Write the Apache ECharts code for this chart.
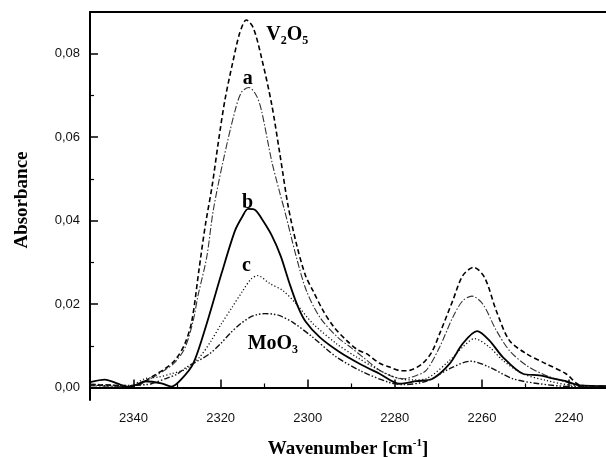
<!DOCTYPE html>
<html>
<head>
<meta charset="utf-8">
<script src="https://cdn.jsdelivr.net/npm/echarts@6/dist/echarts.min.js"></script>
<style>
  html, body { margin: 0; padding: 0; background: #fff; }
  #chart { width: 606px; height: 457px; }
</style>
</head>
<body>
<div id="chart"></div>
<script>
// wavenumber (cm-1) / absorbance
var v2o5X = [2350, 2346, 2342, 2338.5, 2335.9, 2332.8, 2330.5, 2328.2, 2326.6, 2325, 2323.5, 2322, 2320.5, 2319, 2317.2, 2315.6, 2314.1, 2312.5, 2310.6, 2308.3, 2306.4, 2304.5, 2302.5, 2300.5, 2298.8, 2296.5, 2294, 2291.1, 2288.5, 2286.5, 2283.5, 2281.2, 2278.5, 2276.6, 2273.6, 2271.5, 2269.7, 2266.7, 2264.4, 2261.9, 2259.4, 2256.7, 2253.7, 2249.8, 2245.3, 2240.7, 2237.6, 2234, 2230];
var v2o5Y = [0.0005, 0.0006, 0.0003, 0.0008, 0.0025, 0.0045, 0.0065, 0.0105, 0.016, 0.028, 0.039, 0.048, 0.059, 0.069, 0.078, 0.085, 0.0881, 0.0862, 0.079, 0.068, 0.056, 0.0435, 0.034, 0.0268, 0.0232, 0.0185, 0.0145, 0.0113, 0.009, 0.0081, 0.0058, 0.0049, 0.004, 0.0041, 0.0058, 0.0085, 0.0129, 0.0208, 0.0268, 0.0288, 0.0264, 0.0184, 0.0113, 0.0081, 0.0057, 0.0033, 0.0006, 0.0003, 0.0004];

var aX = [2350, 2346, 2342, 2338.5, 2335.9, 2332.8, 2330.5, 2328.2, 2326.3, 2325.2, 2323.2, 2321.7, 2319.4, 2316.7, 2315.2, 2313.5, 2311.8, 2310.6, 2308.3, 2306.5, 2305.3, 2302.6, 2300.3, 2297.2, 2293.1, 2290, 2287, 2284, 2281, 2278.1, 2275.5, 2272.8, 2269.7, 2266.7, 2264.4, 2262.3, 2259.8, 2256.7, 2253.7, 2249.8, 2245.3, 2240.7, 2236.9, 2230];
var aY = [0.0004, 0.0003, 0.0002, 0.0008, 0.0022, 0.0042, 0.006, 0.0095, 0.016, 0.022, 0.0312, 0.0424, 0.0544, 0.0663, 0.0708, 0.0719, 0.07, 0.0663, 0.0544, 0.047, 0.0424, 0.0312, 0.0232, 0.0168, 0.012, 0.0095, 0.007, 0.0045, 0.0028, 0.0021, 0.0027, 0.0041, 0.0097, 0.0168, 0.0208, 0.0219, 0.02, 0.0137, 0.0089, 0.0053, 0.0029, 0.0013, 0.0003, 0.0003];

var bX = [2350, 2346.6, 2343.6, 2341.3, 2339, 2337.4, 2333.6, 2331.3, 2329, 2326.3, 2323.2, 2319.8, 2316.7, 2315, 2313.7, 2312, 2310.3, 2308.3, 2306.2, 2304.2, 2302.3, 2300.5, 2297.2, 2292.7, 2288.1, 2283.5, 2278.9, 2275.1, 2271.3, 2267.4, 2264.4, 2261.1, 2258.3, 2255.2, 2250.6, 2246.8, 2243, 2240.7, 2237.6, 2230];
var bY = [0.0013, 0.0019, 0.0009, 0.0001, 0.0008, 0.0015, 0.001, 0.0002, 0.002, 0.0057, 0.0153, 0.0273, 0.0376, 0.041, 0.0428, 0.0425, 0.04, 0.0365, 0.0315, 0.025, 0.0195, 0.0158, 0.012, 0.0085, 0.0057, 0.0033, 0.0009, 0.0015, 0.0021, 0.0057, 0.0105, 0.0135, 0.0113, 0.0073, 0.0033, 0.0029, 0.002, 0.0015, 0.0005, 0.0003];

var cX = [2350, 2346, 2341, 2337.4, 2334.3, 2331.3, 2327.8, 2324.8, 2322.3, 2319.8, 2317.5, 2314.9, 2313, 2311.5, 2308.7, 2305.7, 2302.6, 2298.8, 2293.4, 2288.8, 2283.5, 2278.9, 2275.5, 2272.8, 2267.4, 2264.4, 2261.7, 2258.3, 2255.2, 2250.6, 2245.3, 2239.1, 2230];
var cY = [0.0006, 0.0004, 0.0004, 0.0021, 0.0025, 0.0033, 0.0045, 0.0073, 0.011, 0.0153, 0.019, 0.0232, 0.026, 0.0268, 0.0249, 0.0232, 0.02, 0.0153, 0.0105, 0.0073, 0.0041, 0.0021, 0.0018, 0.0021, 0.0065, 0.0097, 0.0117, 0.0097, 0.0065, 0.0033, 0.0017, 0.0005, 0.0003];

var moo3X = [2350, 2346, 2341, 2337, 2335.9, 2332.4, 2330, 2327.8, 2325, 2322.5, 2320, 2317.9, 2315.5, 2313.3, 2311.5, 2309.9, 2308, 2306.4, 2303.4, 2298.8, 2293.4, 2287.3, 2281.2, 2278, 2272.8, 2267.4, 2262.6, 2258.3, 2252.9, 2246.8, 2239.1, 2230];
var moo3Y = [0.0008, 0.0006, 0.0005, 0.0007, 0.0009, 0.0022, 0.0032, 0.0049, 0.0065, 0.0081, 0.0105, 0.0129, 0.0152, 0.0168, 0.0175, 0.0177, 0.0176, 0.0172, 0.0156, 0.012, 0.0073, 0.0037, 0.0012, 0.0007, 0.0015, 0.0045, 0.0063, 0.0049, 0.0021, 0.0009, 0.0002, 0.0002];

// axes
var xMajorTicks = [2340, 2320, 2300, 2280, 2260, 2240];
var xMinorTicks = [2330, 2310, 2290, 2270, 2250];
var yTickValues = [0, 0.02, 0.04, 0.06, 0.08];
var yTickLabels = ['0,00', '0,02', '0,04', '0,06', '0,08'];
var yMinorTicks = [0.01, 0.03, 0.05, 0.07];

// curve labels
var noteText = ['V{s|2}O{s|5}', 'a', 'b', 'c', 'MoO{s|3}'];
var noteX = [2304.7, 2313.8, 2313.8, 2314.1, 2308.0];
var noteY = [0.0845, 0.074, 0.0443, 0.0292, 0.0105];

var X_MIN = 2231.5, X_MAX = 2350, Y_MIN = -0.003, Y_MAX = 0.09;
var SERIF = '"Liberation Serif", "Times New Roman", serif';
var SANS = '"Liberation Sans", Arial, sans-serif';

function zip(xs, ys) {
  return xs.map(function (x, i) { return [x, ys[i]]; });
}

function curve(name, xs, ys, lineStyle) {
  return {
    type: 'line',
    name: name,
    data: zip(xs, ys),
    showSymbol: false,
    smooth: 0.3,
    silent: true,
    lineStyle: lineStyle
  };
}

var chart = echarts.init(document.getElementById('chart'), null, { renderer: 'canvas' });

var option = {
  animation: false,
  backgroundColor: '#fff',
  grid: { left: 90, top: 12, right: 0, bottom: 57, outerBoundsMode: 'none', containLabel: false },
  xAxis: [
    {
      type: 'value', position: 'bottom', min: X_MIN, max: X_MAX, inverse: true,
      axisLine: { lineStyle: { color: '#000', width: 2 } },
      axisTick: { inside: true, length: 8, lineStyle: { color: '#000', width: 1.5 }, customValues: xMajorTicks },
      axisLabel: {
        customValues: xMajorTicks, margin: 12, fontFamily: SANS, fontSize: 13, color: '#111',
        formatter: function (v) { return String(Math.round(v)); }
      },
      splitLine: { show: false },
      name: 'Wavenumber [cm{sup|-1}]',
      nameLocation: 'middle',
      nameGap: 38,
      nameTextStyle: {
        fontFamily: SERIF, fontSize: 19, fontWeight: 'bold', color: '#000', lineHeight: 22,
        rich: { sup: { fontFamily: SERIF, fontSize: 11, fontWeight: 'bold', color: '#000', verticalAlign: 'top', lineHeight: 11 } }
      }
    },
    {
      type: 'value', position: 'bottom', min: X_MIN, max: X_MAX, inverse: true,
      axisLine: { show: false },
      axisTick: { inside: true, length: 4, lineStyle: { color: '#000', width: 1.2 }, customValues: xMinorTicks },
      axisLabel: { show: false },
      splitLine: { show: false }
    },
    {
      type: 'value', position: 'top', min: X_MIN, max: X_MAX, inverse: true,
      axisLine: { lineStyle: { color: '#000', width: 2 } },
      axisTick: { show: false },
      axisLabel: { show: false },
      splitLine: { show: false }
    }
  ],
  yAxis: [
    {
      type: 'value', position: 'left', min: Y_MIN, max: Y_MAX,
      axisLine: { show: true, lineStyle: { color: '#000', width: 2 } },
      axisTick: { show: true, inside: true, length: 8, lineStyle: { color: '#000', width: 1.5 }, customValues: yTickValues },
      axisLabel: {
        customValues: yTickValues, margin: 10, fontFamily: SANS, fontSize: 13, color: '#111',
        formatter: function (v) {
          for (var i = 0; i < yTickValues.length; i++) {
            if (Math.abs(yTickValues[i] - v) < 1e-6) return yTickLabels[i];
          }
          return '';
        }
      },
      splitLine: { show: false },
      name: 'Absorbance',
      nameLocation: 'middle',
      nameGap: 58,
      nameTextStyle: { fontFamily: SERIF, fontSize: 19, fontWeight: 'bold', color: '#000', padding: [0, 0, 0, 12] }
    },
    {
      type: 'value', position: 'left', min: Y_MIN, max: Y_MAX,
      axisLine: { show: false },
      axisTick: { show: true, inside: true, length: 4, lineStyle: { color: '#000', width: 1.2 }, customValues: yMinorTicks },
      axisLabel: { show: false },
      splitLine: { show: false }
    }
  ],
  series: [
    curve('V2O5', v2o5X, v2o5Y, { color: '#000', width: 1.6, type: [5, 3] }),
    curve('a', aX, aY, { color: '#333', width: 1.1, type: [7, 2, 1.5, 2] }),
    curve('b', bX, bY, { color: '#000', width: 1.8, type: 'solid' }),
    curve('c', cX, cY, { color: '#111', width: 1.3, type: [1.2, 2.2] }),
    curve('MoO3', moo3X, moo3Y, { color: '#111', width: 1.4, type: [6, 2, 1.5, 2, 1.5, 2] }),
    {
      type: 'scatter',
      silent: true,
      symbolSize: 0,
      itemStyle: { color: '#000', opacity: 1 },
      data: noteX.map(function (x, i) { return { value: [x, noteY[i]], text: noteText[i] }; }),
      label: {
        show: true,
        position: 'inside',
        formatter: function (p) { return p.data.text; },
        fontFamily: SERIF, fontSize: 20, fontWeight: 'bold', color: '#000', lineHeight: 24,
        textBorderWidth: 0, opacity: 1,
        rich: { s: { fontFamily: SERIF, fontSize: 12, fontWeight: 'bold', color: '#000', textBorderWidth: 0, verticalAlign: 'bottom', lineHeight: 12 } }
      }
    }
  ]
};

chart.setOption(option);
</script>
</body>
</html>
